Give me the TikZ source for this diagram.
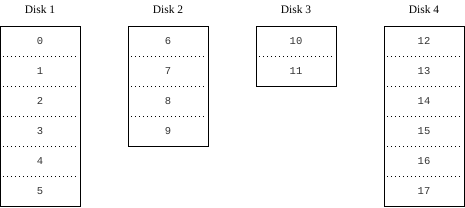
\documentclass[tikz,border=0pt]{standalone}
\usepackage{fontspec}
\setmainfont{Liberation Serif}
\setmonofont{Liberation Mono}
\begin{document}
\begin{tikzpicture}[x=1pt,y=-1pt,
  diskbox/.style={draw, line width=0.6pt},
  sep/.style={line width=0.7pt, dash pattern=on 0.7pt off 3.3pt},
  num/.style={font=\ttfamily\fontsize{10.5}{12}\selectfont, text=black!80},
  lbl/.style={font=\fontsize{11.5}{13}\selectfont}]
\useasboundingbox (0,0) rectangle (465,208);
\foreach \d/\x/\n/\s in {1/0/6/0, 2/128/4/6, 3/256/2/10, 4/384/6/12}{
  \node[lbl] (label\d) at (\x+40,9.5) {Disk \d};
  \node[diskbox, minimum width=80pt, minimum height={30*\n*1pt}, anchor=north west, inner sep=0pt] (box\d) at (\x+0.3,26) {};
  \foreach \i in {1,...,\n}{
    \pgfmathtruncatemacro{\v}{\s+\i-1}
    \node[num] (n\d-\i) at (\x+40,26+30*\i-15) {\v};
  }
  \ifnum\n>1
  \foreach \i in {2,...,\n}{
    \coordinate (a\d-\i) at (\x+3,26+30*\i-30);
    \coordinate (b\d-\i) at (\x+78,26+30*\i-30);
    \draw[sep] (a\d-\i) -- (b\d-\i);
  }
  \fi
}
\end{tikzpicture}
\end{document}
